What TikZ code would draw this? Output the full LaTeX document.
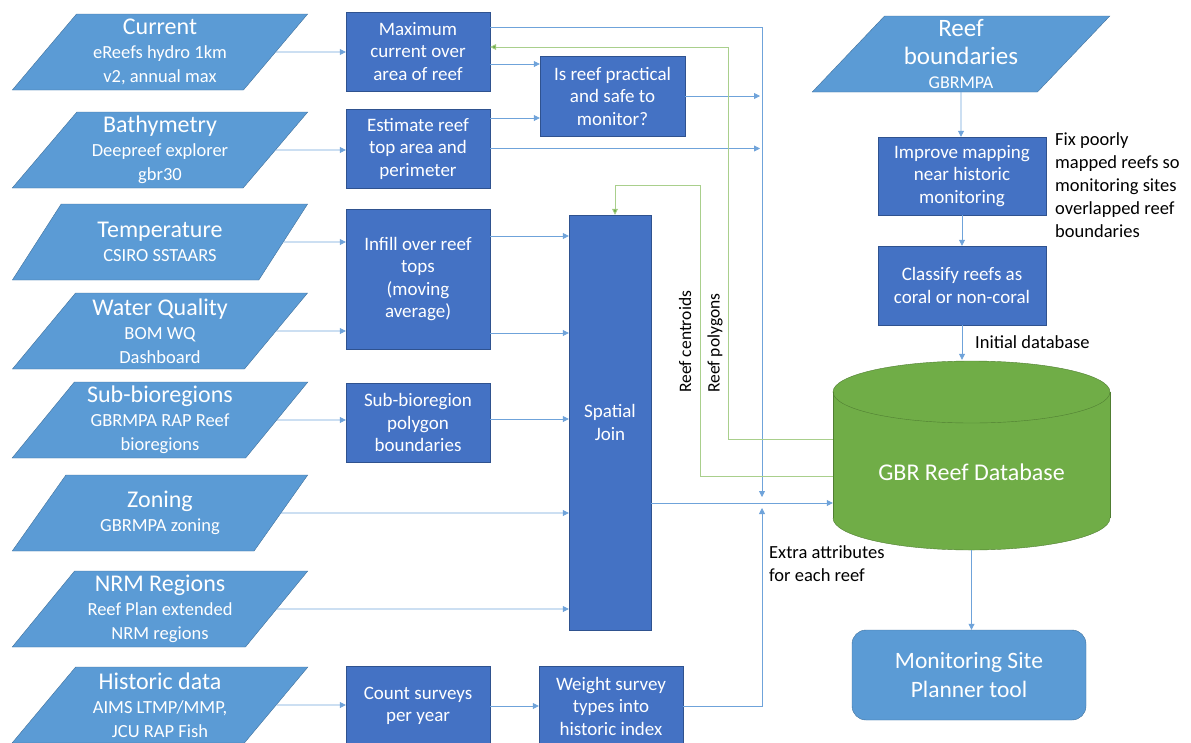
\documentclass[tikz,border=0pt]{standalone}
\usepackage{fontspec}
\setmainfont{Carlito}
\usetikzlibrary{shapes.geometric,arrows.meta}
\definecolor{srcblue}{HTML}{5B9BD5}
\definecolor{srcedge}{HTML}{41719C}
\definecolor{procblue}{HTML}{4472C4}
\definecolor{procedge}{HTML}{2F528F}
\definecolor{dbgreen}{HTML}{70AD47}
\definecolor{dbedge}{HTML}{507E32}
\definecolor{linkblue}{HTML}{6FA3DA}
\definecolor{linkgreen}{HTML}{A9CF8C}
\newcommand{\srctitle}[1]{{\fontsize{24}{27}\selectfont #1}}
\begin{document}
\begin{tikzpicture}[x=1pt,y=-1pt]
        % Styles
        \tikzstyle{data source}=[trapezium,trapezium left angle=52,trapezium right angle=128,trapezium stretches=true,
            minimum width=296pt,minimum height=76pt,inner sep=0pt,fill=srcblue,draw=srcedge,text=white,align=center,
            font=\fontsize{18.5}{24}\selectfont]
        \tikzstyle{process box}=[rectangle,minimum width=144pt,minimum height=79pt,inner sep=2pt,fill=procblue,
            draw=procedge,text=white,align=center,font=\fontsize{19}{22.5}\selectfont]
        \tikzstyle{flow line}=[draw=linkblue,line width=0.8pt,-{Triangle[length=6pt,width=6pt]}]
        \tikzstyle{feedback line}=[draw=linkgreen,line width=0.8pt,-{Triangle[length=6pt,width=6pt,fill=dbgreen]}]
        \tikzstyle{side note}=[inner sep=0pt,align=left,text=black,font=\fontsize{18.5}{23}\selectfont]
        \useasboundingbox (0,0) rectangle (1191,742);
        %data sources
        \node[data source] (cur)  at (160,52)  {\srctitle{Current}\\eReefs hydro 1km\\v2, annual max};
        \node[data source] (bath) at (160,150) {\srctitle{Bathymetry}\\Deepreef explorer\\gbr30};
        \node[data source] (temp) at (160,242) {\srctitle{Temperature}\\CSIRO SSTAARS};
        \node[data source] (wq)   at (160,331) {\srctitle{Water Quality}\\BOM WQ\\Dashboard};
        \node[data source] (subb) at (160,420) {\srctitle{Sub-bioregions}\\GBRMPA RAP Reef\\bioregions};
        \node[data source] (zon)  at (160,513) {\srctitle{Zoning}\\GBRMPA zoning};
        \node[data source] (nrm)  at (160,609) {\srctitle{NRM Regions}\\Reef Plan extended\\NRM regions};
        \node[data source] (hist) at (160,705) {\srctitle{Historic data}\\AIMS LTMP/MMP,\\JCU RAP Fish};
        \node[data source,minimum width=298pt,font=\fontsize{18}{23}\selectfont] (rb) at (961,54)
            {{\fontsize{25}{28}\selectfont Reef}\\[5pt]{\fontsize{25}{28}\selectfont boundaries}\\[1pt]GBRMPA};
        %processing steps
        \node[process box] (maxc) at (418,51.5) {Maximum\\current over\\area of reef};
        \node[process box] (est) at (418,148.5) {Estimate reef\\top area and\\perimeter};
        \node[process box,minimum height=140pt] (infill) at (418,279) {Infill over reef\\tops\\(moving\\average)};
        \node[process box] (subp) at (418,422.5) {Sub-bioregion\\polygon\\boundaries};
        \node[process box] (count) at (418,706) {Count surveys\\per year};
        \node[process box] (weight) at (611,706) {Weight survey\\types into\\historic index};
        \node[process box,minimum width=145pt,minimum height=80pt] (safe) at (612.5,96) {Is reef practical\\and safe to\\monitor?};
        \node[process box,minimum width=82pt,minimum height=415pt] (join) at (610,422.5) {Spatial\\Join};
        \node[process box,minimum width=168pt,minimum height=78pt] (improve) at (962,176) {Improve mapping\\near historic\\monitoring};
        \node[process box,minimum width=168pt] (classify) at (962,285.5) {Classify reefs as\\coral or non-coral};
        %database cylinder
        \fill[dbgreen] (833,392) rectangle (1110,518);
        \fill[dbgreen] (971.5,518) ellipse [x radius=138.5,y radius=32];
        \begin{scope}
            \clip (820,518) rectangle (1125,560);
            \draw[dbedge] (971.5,518) ellipse [x radius=138.5,y radius=32];
        \end{scope}
        \draw[dbedge,fill=dbgreen] (971.5,392) ellipse [x radius=138.5,y radius=31];
        \draw[dbedge] (833,392) -- (833,518) (1110,392) -- (1110,518);
        \node[minimum width=277pt,minimum height=190pt,inner sep=0pt] (db) at (971.5,455) {};
        \node[text=white,font=\fontsize{24}{28}\selectfont] (dblabel) at (971.5,472) {GBR Reef Database};
        \node[rounded corners=14pt,minimum width=234pt,minimum height=90pt,fill=srcblue,draw=srcedge,text=white,
            align=center,font=\fontsize{23.5}{29}\selectfont] (plan) at (969,675) {Monitoring Site\\Planner tool};
        %collector rail
        \coordinate (railtop) at (762,27);
        \coordinate (raildown) at (762,497);
        \coordinate (railup) at (762,508);
        %connectors
        \draw[flow line] (cur) -- (maxc.west |- cur);
        \draw[flow line] (bath) -- (est.west |- bath);
        \draw[flow line] (temp) -- (infill.west |- temp);
        \draw[flow line] (wq) -- (infill.west |- wq);
        \draw[flow line] (subb) -- (subp.west |- subb);
        \draw[flow line] (zon) -- (join.west |- zon);
        \draw[flow line] (nrm) -- (join.west |- nrm);
        \draw[flow line] (hist) -- (count.west |- hist);
        \draw[flow line] (count) -- (weight);
        \draw[flow line] (weight) -| (railup);
        \draw[flow line] (maxc.east |- 0,64) -- (safe.west |- 0,64);
        \draw[flow line] (est.east |- 0,118) -- (safe.west |- 0,118);
        \draw[flow line] (maxc.east |- railtop) -- (railtop) -- (raildown);
        \draw[flow line,shorten >=2pt] (safe) -- (safe -| railtop);
        \draw[flow line,shorten >=2pt] (est) -- (est -| railtop);
        \draw[flow line] (infill.east |- 0,236) -- (join.west |- 0,236);
        \draw[flow line] (infill.east |- 0,333) -- (join.west |- 0,333);
        \draw[flow line] (subp.east |- 0,419) -- (join.west |- 0,419);
        \draw[flow line] (join.east |- 0,503) -- (db.west |- 0,503);
        \draw[flow line] (rb) -- (rb |- improve.north);
        \draw[flow line] (improve) -- (classify);
        \draw[flow line] (classify) -- (classify |- db.north);
        \draw[flow line] (db.south) -- (db.south |- plan.north);
        \draw[feedback line] (db.west |- 0,439) -| (728,47) -- (maxc.east |- 0,47);
        \draw[feedback line] (db.west |- 0,476) -| (700,185) -| ([xshift=5pt]join.north);
        %notes
        \node[side note,rotate=90,anchor=west,font=\fontsize{17.5}{20}\selectfont] (lcent) at (685,393) {Reef centroids};
        \node[side note,rotate=90,anchor=west,font=\fontsize{17.5}{20}\selectfont] (lpoly) at (715,393) {Reef polygons};
        \node[side note,anchor=north west] (lfix) at (1055,132) {Fix poorly\\mapped reefs so\\monitoring sites\\overlapped reef\\boundaries};
        \node[side note,anchor=west] (linit) at (975,342) {Initial database};
        \node[side note,anchor=north west] (lextra) at (769,545) {Extra attributes\\for each reef};
\end{tikzpicture}
\end{document}
